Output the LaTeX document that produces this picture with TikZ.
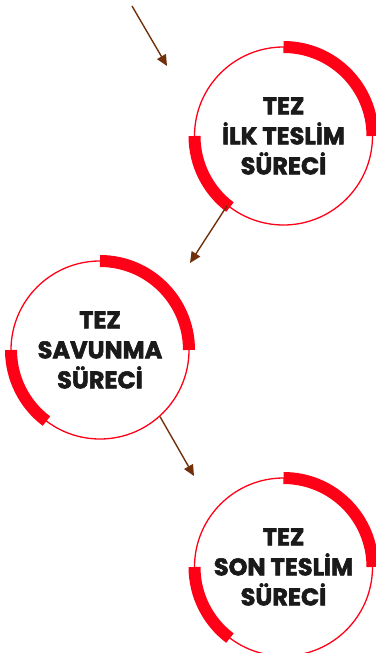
\documentclass[tikz,border=0pt]{standalone}
\usepackage{fontspec}
\setmainfont{Poppins}[BoldFeatures={FakeBold=2.4}]
\usetikzlibrary{positioning,arrows.meta}
\definecolor{myred}{RGB}{255,0,22}
\definecolor{mybrown}{RGB}{112,48,12}
\definecolor{mygray}{RGB}{26,26,26}

\begin{document}
\begin{tikzpicture}[x=1pt,y=1pt,
stage/.style={circle,draw=myred,line width=1.3pt,minimum size=178pt,inner sep=0pt,align=center,text=mygray,font=\fontsize{24}{30}\selectfont\bfseries},
band/.style={draw=myred,line width=12pt},
edge/.style={-{Triangle[length=11pt,width=10pt]},draw=mybrown,line width=1.4pt}]

\useasboundingbox (0,0) rectangle (375,-653);

% nodes
\node[stage] (a) at (283.5,-136) {TEZ\\İLK TESLİM\\SÜRECİ};
\node[stage] (b) at (100,-350) {TEZ\\SAVUNMA\\SÜRECİ};
\node[stage] (c) at (283.5,-567) {TEZ\\SON TESLİM\\SÜRECİ};

% bands
\foreach \n in {a,b,c}{
  \draw[band] ([shift={(90:89)}]\n.center) arc[start angle=90,end angle=0,radius=89];
  \draw[band] ([shift={(180:89)}]\n.center) arc[start angle=180,end angle=233,radius=89];
}

% free ends
\coordinate (s) at (132,-6);
\coordinate (t) at (167,-66);
\coordinate (u) at (190,-263);
\coordinate (v) at (194,-476);

\draw[edge] (s) -- (t);
\draw[edge] (a.231) -- (u);
\draw[edge] (b.312) -- (v);
\end{tikzpicture}
\end{document}
